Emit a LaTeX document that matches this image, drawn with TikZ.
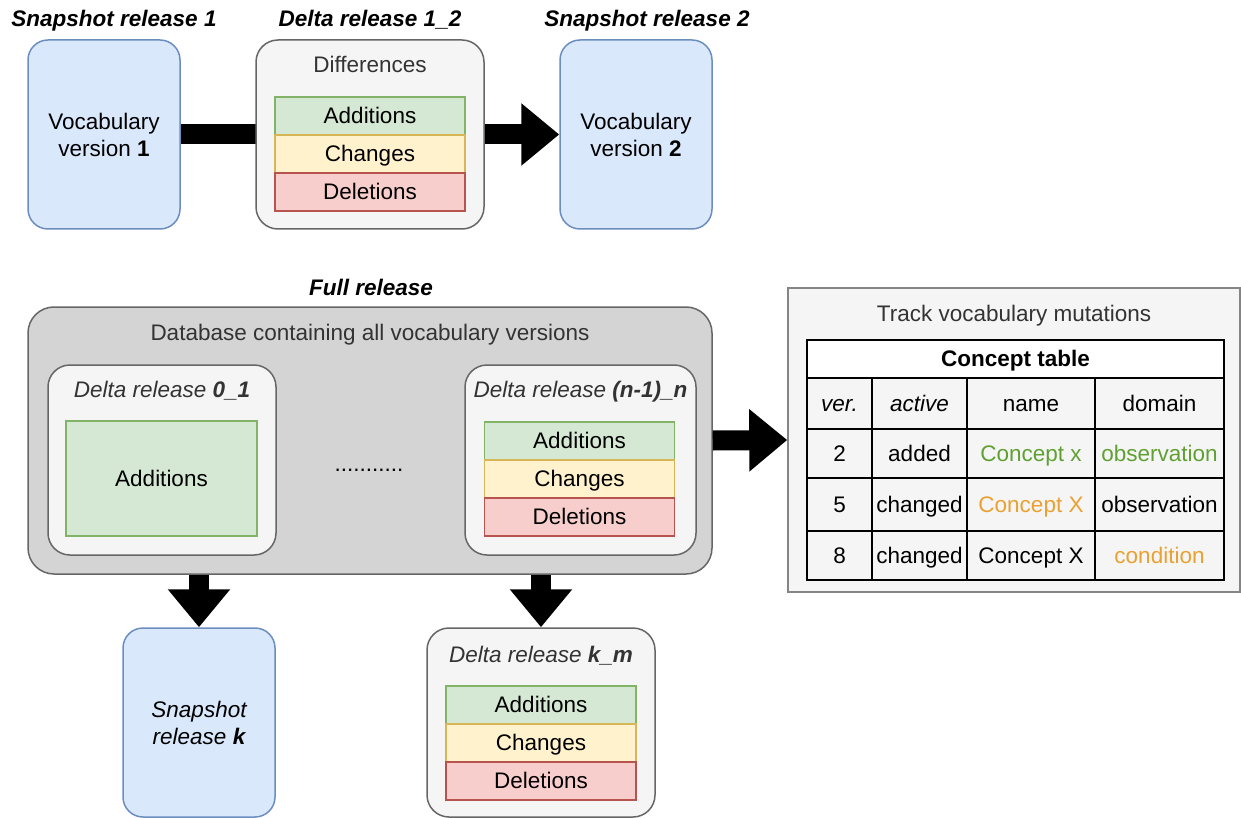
\documentclass[tikz,border=0pt]{standalone}
\usepackage{fontspec}
\setmainfont{Liberation Sans}
\usepackage{tikz}
\usetikzlibrary{arrows.meta,backgrounds}

\definecolor{blueF}{RGB}{218,232,252}
\definecolor{blueD}{RGB}{108,142,191}
\definecolor{greyF}{RGB}{245,245,245}
\definecolor{greyD}{RGB}{102,102,102}
\definecolor{dbF}{RGB}{212,212,212}
\definecolor{greenF}{RGB}{213,232,212}
\definecolor{greenD}{RGB}{130,179,102}
\definecolor{yellowF}{RGB}{255,242,204}
\definecolor{yellowD}{RGB}{214,182,86}
\definecolor{redF}{RGB}{248,206,204}
\definecolor{redD}{RGB}{184,84,80}
\definecolor{txtgrey}{RGB}{51,51,51}
\definecolor{okgreen}{RGB}{96,160,50}
\definecolor{chorange}{RGB}{235,160,50}

\tikzset{
  lbl/.style={font=\fontsize{11.25}{13.5}\selectfont, inner sep=0pt, align=center},
  oneline/.style={lbl, text height=10.2pt, text depth=2.4pt},
  ttl/.style={oneline, font=\fontsize{11.25}{13.5}\selectfont\bfseries\itshape},
  snapbox/.style={lbl, draw=blueD, fill=blueF, line width=0.75pt, rounded corners=10pt, minimum width=76pt, minimum height=94.5pt},
  deltabox/.style={lbl, draw=greyD, fill=greyF, line width=0.75pt, rounded corners=11pt},
  addbar/.style={oneline, draw=greenD, fill=greenF, line width=0.75pt, minimum width=95pt, minimum height=19pt},
  chgbar/.style={oneline, draw=yellowD, fill=yellowF, line width=0.75pt, minimum width=95pt, minimum height=19pt},
  delbar/.style={oneline, draw=redD, fill=redF, line width=0.75pt, minimum width=95pt, minimum height=19pt},
  bigarrow/.style={line width=10pt, -{Triangle[width=30pt,length=19pt]}},
  cell/.style={oneline, draw=black, line width=1pt, fill=greyF}
}

\begin{document}
\begin{tikzpicture}[x=0.5pt,y=0.5pt,yscale=-1,xscale=1]
\useasboundingbox (0,0) rectangle (1241,818);

%Shape: Snapshot 1
\node[snapbox] (snapa) at (104,134.5) {Vocabulary\\version \textbf{1}};
%Shape: Delta 1_2
\node[deltabox, minimum width=114pt, minimum height=94.5pt] (dab) at (370,134.5) {};
%Shape: Snapshot 2
\node[snapbox] (snapb) at (636,134.5) {Vocabulary\\version \textbf{2}};

% Text Node
\node[ttl] (snapatitle) at (114,19) {Snapshot release 1};
% Text Node
\node[ttl] (dabtitle) at (370,19) {Delta release 1\_2};
% Text Node
\node[ttl] (snapbtitle) at (647,19) {Snapshot release 2};
% Text Node
\node[oneline, text=txtgrey] (diff) at (370,65) {Differences};

\node[addbar] (dabadd) at (370,116) {Additions};
\node[chgbar] (dabchg) at (370,154) {Changes};
\node[delbar] (dabdel) at (370,192) {Deletions};

%Arrow behind delta box
\begin{scope}[on background layer]
\draw[bigarrow] (snapa.east) -- (snapb.west);
\end{scope}

% Text Node
\node[ttl] (fulltitle) at (371,288) {Full release};
%Shape: Database
\node[deltabox, fill=dbF, rounded corners=13pt, minimum width=342pt, minimum height=133.5pt] (db) at (370,440.5) {};
% Text Node
\node[oneline, text=txtgrey] (dbtitle) at (370,333) {Database containing all vocabulary versions};

%Shape: Delta 0_1
\node[deltabox, minimum width=114pt, minimum height=95pt] (dza) at (162,460) {};
\node[oneline, text=txtgrey, font=\fontsize{11.25}{13.5}\selectfont\itshape] (dzatitle) at (162,390) {Delta release \textbf{0\_1}};
\node[addbar, minimum width=95.5pt, minimum height=57.5pt] (dzaadd) at (161.5,478.5) {Additions};

% Text Node
\node[oneline] (dots) at (369,464) {...........};

%Shape: Delta (n-1)_n
\node[deltabox, minimum width=115.5pt, minimum height=95pt] (dn) at (580.5,460) {};
\node[oneline, text=txtgrey, font=\fontsize{11.25}{13.5}\selectfont\itshape] (dntitle) at (580.5,390) {Delta release \textbf{(n-1)\_n}};
\node[addbar] (dnadd) at (579.5,441) {Additions};
\node[chgbar] (dnchg) at (579.5,479) {Changes};
\node[delbar] (dndel) at (579.5,517) {Deletions};

%Shape: Track box
\node[lbl, draw=greyD!80, fill=greyF, line width=0.75pt, minimum width=226pt, minimum height=152pt] (track) at (1014,440) {};
% Text Node
\node[oneline, text=txtgrey] (tracktitle) at (1014,314) {Track vocabulary mutations};

%Concept table
\node[cell, fill=white, minimum width=208.5pt, minimum height=19pt, font=\fontsize{11.25}{13.5}\selectfont\bfseries] (hdr) at (1015.5,359) {Concept table};
\foreach \r/\yc/\hh/\ca/\cb/\cc/\cd in {
  1/403.5/25.5/{\textit{ver.}}/{\textit{active}}/{name}/{domain},
  2/453.5/24.5/{2}/{added}/{\textcolor{okgreen}{Concept x}}/{\textcolor{okgreen}{observation}},
  3/504.5/26.5/{5}/{changed}/{\textcolor{chorange}{Concept X}}/{observation},
  4/555.5/24.5/{8}/{changed}/{Concept X}/{\textcolor{chorange}{condition}}}
{
  \node[cell, minimum width=32.5pt, minimum height=\hh pt] (ver\r) at (839.5,\yc) {\ca};
  \node[cell, minimum width=47.5pt, minimum height=\hh pt] (act\r) at (919.5,\yc) {\cb};
  \node[cell, minimum width=64pt, minimum height=\hh pt] (nam\r) at (1031,\yc) {\cc};
  \node[cell, minimum width=64.5pt, minimum height=\hh pt] (dom\r) at (1159.5,\yc) {\cd};
}

%Shape: Snapshot k
\node[snapbox, font=\fontsize{11.25}{13.5}\selectfont\itshape] (snapk) at (199,722.5) {Snapshot\\release \textbf{k}};
%Shape: Delta k_m
\node[deltabox, minimum width=114pt, minimum height=94.5pt] (dkm) at (541,722.5) {};
\node[oneline, text=txtgrey, font=\fontsize{11.25}{13.5}\selectfont\itshape] (dkmtitle) at (541,655) {Delta release \textbf{k\_m}};
\node[addbar] (dkmadd) at (541,705) {Additions};
\node[chgbar] (dkmchg) at (541,743) {Changes};
\node[delbar] (dkmdel) at (541,781) {Deletions};

%Block arrows
\draw[bigarrow] (db.east) -- (track.west);
\draw[bigarrow] (db.south -| snapk.north) -- (snapk.north);
\draw[bigarrow] (db.south -| dkm.north) -- (dkm.north);

\end{tikzpicture}
\end{document}
